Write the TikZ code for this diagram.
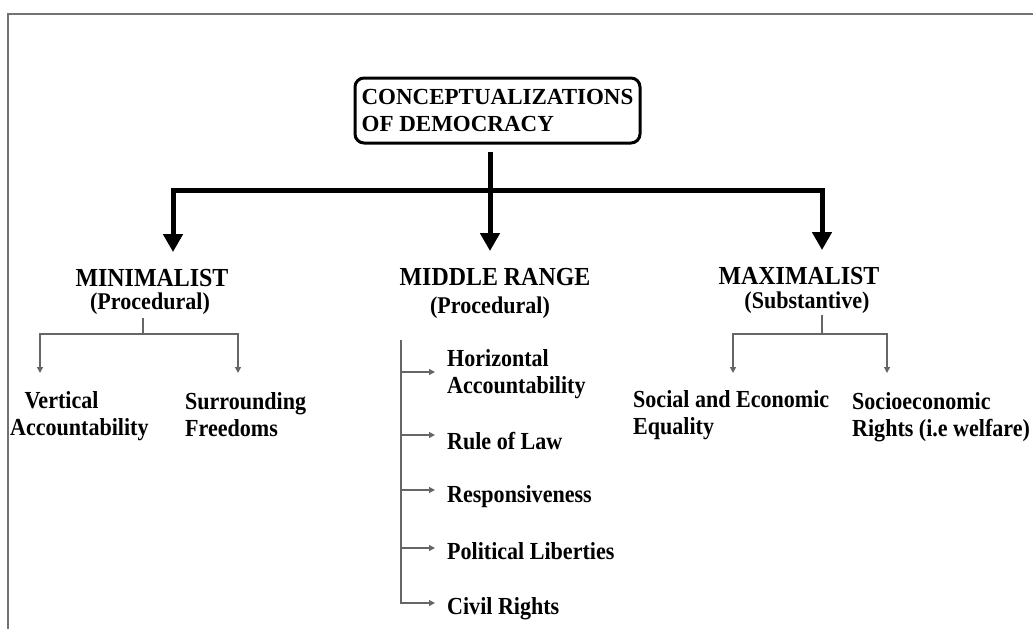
\documentclass[tikz,border=0pt]{standalone}
\usepackage{fontspec}
\setmainfont{Liberation Serif}
\usetikzlibrary{arrows.meta}
\tikzset{
  frame/.style={draw=black!55, line width=1.5pt},
  thickline/.style={black, line width=5pt},
  thickarrow/.style={black, line width=5pt, -{Triangle[width=19pt,length=18pt]}, shorten >=17pt},
  thinline/.style={black!60, line width=1.2pt},
  thinarrow/.style={black!60, line width=1.2pt, -{Triangle[width=6pt,length=6pt]}},
  rootbox/.style={draw, line width=3pt, rounded corners=9pt, minimum width=285pt, minimum height=65pt,
    align=left, inner sep=5pt, font=\fontsize{23}{27}\selectfont\bfseries},
  title/.style={inner sep=0pt, xscale=0.92, font=\fontsize{26}{28}\selectfont\bfseries},
  subtitle/.style={inner sep=0pt, xscale=0.92, font=\fontsize{24}{26}\selectfont\bfseries},
  leaf/.style={anchor=west, align=left, inner sep=0pt, xscale=0.9, font=\fontsize{24.5}{27}\selectfont\bfseries}
}

\begin{document}
\begin{tikzpicture}[x=1pt,y=-1pt]
  \useasboundingbox (0,0) rectangle (1033,629);
  \draw[frame] (8,629) -- (8,14) -- (1033,14);

  % top of the tree
  \node[rootbox] (root) at (497.5,110.5) {CONCEPTUALIZATIONS\\OF DEMOCRACY};
  \coordinate (hub) at (490,190);
  \coordinate (lbar) at (173,190);
  \coordinate (rbar) at (822,190);

  \node[title] (minimal) at (152,278) {MINIMALIST};
  \node[subtitle] (minimalsub) at (150,304) {(Procedural)};
  \node[title] (middle) at (495,277) {MIDDLE RANGE};
  \node[subtitle] (middlesub) at (490,308) {(Procedural)};
  \node[title] (maximal) at (799,276) {MAXIMALIST};
  \node[subtitle, font=\fontsize{24}{28}\selectfont\bfseries] (maximalsub) at (807,303) {(Substantive)};

  \draw[thickline, shorten <=7pt] (hub |- root.south) -- (hub);
  \draw[thickarrow] (hub) -| (lbar |- minimal.north);
  \draw[thickarrow] (hub) -- (hub |- middle.north);
  \draw[thickarrow] (hub) -| (rbar |- maximal.north);

  % minimalist
  \node[leaf] (vert) at (10,416) {\hspace*{16pt}Vertical\\Accountability};
  \node[leaf] (surr) at (185,415) {Surrounding\\Freedoms};
  \coordinate (mfork) at (143,334);
  \coordinate (vtip) at (40,373);
  \coordinate (stip) at (238,373);
  \draw[thinline, shorten <=3pt] (mfork |- minimalsub.south) -- (mfork);
  \draw[thinarrow] (mfork) -| (vtip);
  \draw[thinarrow] (mfork) -| (stip);

  % middle range
  \node[leaf] (horiz) at (447,374) {Horizontal\\Accountability};
  \node[leaf] (law) at (447,441) {Rule of Law};
  \node[leaf] (resp) at (447,497) {Responsiveness};
  \node[leaf] (polit) at (447,551) {Political Liberties};
  \node[leaf] (civil) at (447,609) {Civil Rights};
  \coordinate (spine) at (401,340);
  \draw[thinarrow] ([yshift=2pt]horiz.west -| spine) -- ([yshift=2pt,xshift=-12pt]horiz.west);
  \draw[thinarrow] ([yshift=6pt]law.west -| spine) -- ([yshift=6pt,xshift=-12pt]law.west);
  \draw[thinarrow] ([yshift=7pt]resp.west -| spine) -- ([yshift=7pt,xshift=-12pt]resp.west);
  \draw[thinarrow] ([yshift=3pt]polit.west -| spine) -- ([yshift=3pt,xshift=-12pt]polit.west);
  \draw[thinarrow] (spine) |- ([yshift=6pt,xshift=-12pt]civil.west);

  % maximalist
  \node[leaf] (equal) at (633,415) {Social and Economic\\Equality};
  \node[leaf] (welfare) at (852,417) {Socioeconomic\\Rights (i.e welfare)};
  \coordinate (xfork) at (822,334);
  \coordinate (etip) at (733,373);
  \coordinate (wtip) at (887,373);
  \draw[thinline, shorten <=1pt] (xfork |- maximalsub.south) -- (xfork);
  \draw[thinarrow] (xfork) -| (etip);
  \draw[thinarrow] (xfork) -| (wtip);
\end{tikzpicture}
\end{document}
